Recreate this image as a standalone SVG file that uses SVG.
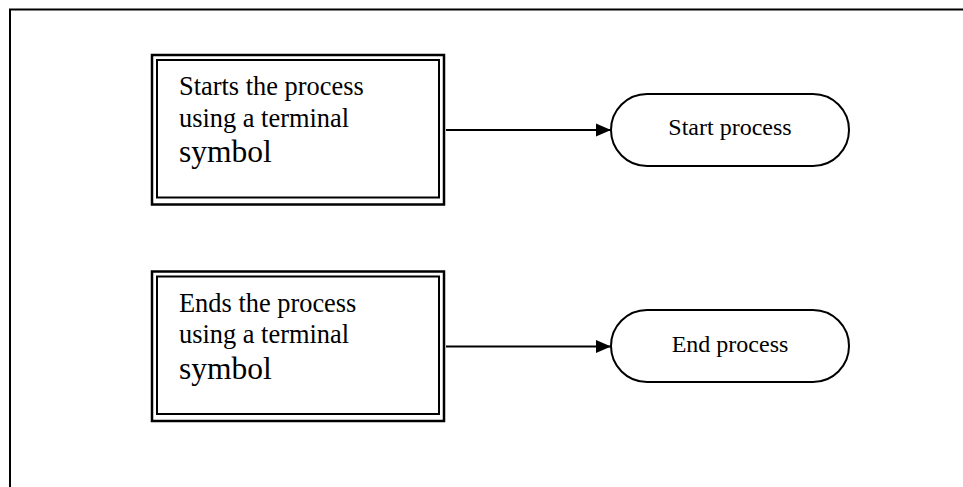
<svg xmlns="http://www.w3.org/2000/svg" width="963" height="487" viewBox="0 0 963 487">
<style>
.frame{fill:none;stroke:#000;stroke-width:2}
.outer{fill:#fff;stroke:#000;stroke-width:2.5}
.inner{fill:none;stroke:#000;stroke-width:2}
.term{fill:#fff;stroke:#000;stroke-width:2}
.edge{fill:none;stroke:#000;stroke-width:2}
.t{font-family:"Liberation Serif","Times New Roman",serif;fill:#000}
.big{font-size:26.4px}
.sym{font-size:31.5px}
.lbl{font-size:24px;text-anchor:middle}
</style>
<defs>
<marker id="arr" markerWidth="16" markerHeight="14" refX="15" refY="7" orient="auto" markerUnits="userSpaceOnUse">
<path d="M0,0.5 L15,7 L0,13.5 Z" fill="#000"/>
</marker>
</defs>
<rect width="963" height="487" fill="#fff"/>
<path class="frame" d="M10,487 V9.5 H963"/>
<g id="connectors">
<line class="edge" x1="446" y1="130" x2="611" y2="130" marker-end="url(#arr)"/>
<line class="edge" x1="446" y1="346.5" x2="611" y2="346.5" marker-end="url(#arr)"/>
</g>
<g id="desc-start">
<rect class="outer" x="152" y="55" width="292" height="149.5"/>
<rect class="inner" x="157" y="60" width="282" height="137.5"/>
<text class="t big" x="179" y="95">Starts the process</text>
<text class="t big" x="179" y="126.7">using a terminal</text>
<text class="t sym" x="179" y="161.7">symbol</text>
</g>
<g id="start-process">
<rect class="term" x="611" y="94" width="238" height="72" rx="36" ry="36"/>
<text class="t lbl" x="730" y="135">Start process</text>
</g>
<g id="desc-end">
<rect class="outer" x="152" y="271.5" width="292" height="149.5"/>
<rect class="inner" x="157" y="276.5" width="282" height="137.5"/>
<text class="t big" x="179" y="311.7">Ends the process</text>
<text class="t big" x="179" y="343.3">using a terminal</text>
<text class="t sym" x="179" y="379">symbol</text>
</g>
<g id="end-process">
<rect class="term" x="611" y="310" width="238" height="72" rx="36" ry="36"/>
<text class="t lbl" x="730" y="351.7">End process</text>
</g>
</svg>
